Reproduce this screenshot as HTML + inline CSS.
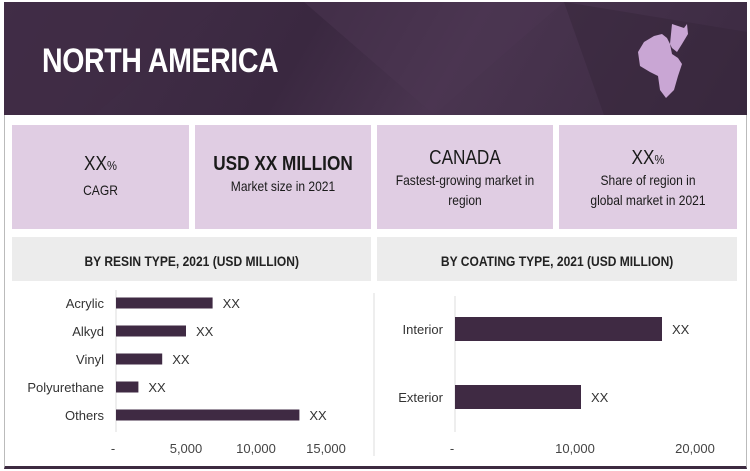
<!DOCTYPE html>
<html><head><meta charset="utf-8"><style>
*{margin:0;padding:0;box-sizing:border-box}
body{width:750px;height:471px;background:#fff;font-family:"Liberation Sans Narrow","Liberation Sans",sans-serif;position:relative;overflow:hidden}
.frame{position:absolute;left:4px;top:2px;width:743px;height:467px;border:1px solid #bbb;border-bottom:3px solid #3d2a40}
.header{position:absolute;left:4px;top:2px;width:743px;height:113px;background:linear-gradient(120deg,#44304a 0%,#3a2840 40%,#4a3550 60%,#3b2a41 100%);overflow:hidden}
.title{position:absolute;left:38px;top:40px;color:#fff;font-weight:bold;font-size:34px;letter-spacing:-0.5px;transform:scaleX(0.84);transform-origin:left center}
.box{position:absolute;top:125px;height:104px;background:#e0cde3;text-align:center;color:#1a1a1a}
.box div{transform:scaleX(0.86)}
.big{font-size:20px;margin-top:28px}
.small{font-size:14px;margin-top:4px;line-height:20px}
.sec{position:absolute;top:237px;height:44px;background:#ececec;text-align:center;font-size:14px;font-weight:bold;line-height:48px;color:#222}
.sec span{display:inline-block;transform:scaleX(0.86)}
svg text{font-family:"Liberation Sans Narrow","Liberation Sans",sans-serif}
</style></head><body>
<div class="frame"></div>
<div class="header">
<svg width="743" height="113" style="position:absolute;left:0;top:0">
<polygon points="0,0 220,0 90,113 0,113" fill="#3f2c45" opacity="0.6"/>
<polygon points="300,0 560,0 430,113" fill="#4b3652" opacity="0.5"/>
<polygon points="560,0 743,30 743,113 600,113" fill="#352539" opacity="0.5"/>
</svg>
<div class="title">NORTH AMERICA</div>
<svg width="60" height="80" style="position:absolute;left:628px;top:18px">
<path d="M40,4 L52,8 L55,4 L56,14 L50,24 L45,32 L40,28 L35,18 L30,14 L22,16 L12,22 L6,32 L8,46 L18,52 L26,56 L28,70 L34,78 L42,70 L46,56 L50,44 L46,38 L40,34 L38,24 Z" fill="#c9a6d4"/>
</svg>
</div>
<div class="box" style="left:12px;width:177px"><div class="big">XX<span style="font-size:13px">%</span></div><div class="small">CAGR</div></div>
<div class="box" style="left:195px;width:176px"><div class="big" style="font-weight:bold">USD XX MILLION</div><div class="small" style="margin-top:0">Market size in 2021</div></div>
<div class="box" style="left:377px;width:176px"><div class="big" style="margin-top:22px">CANADA</div><div class="small" style="margin-top:0">Fastest-growing market in<br>region</div></div>
<div class="box" style="left:559px;width:178px"><div class="big" style="margin-top:22px">XX<span style="font-size:13px">%</span></div><div class="small" style="margin-top:0">Share of region in<br>global market in 2021</div></div>
<div class="sec" style="left:12px;width:359px"><span>BY RESIN TYPE, 2021 (USD MILLION)</span></div>
<div class="sec" style="left:377px;width:360px"><span>BY COATING TYPE, 2021 (USD MILLION)</span></div>
<svg id="chart" width="750" height="471" style="position:absolute;left:0;top:0">
<line x1="374" y1="293" x2="374" y2="456" stroke="#ddd"/>
<line x1="116" y1="290" x2="116" y2="432" stroke="#ddd"/>
<line x1="455" y1="296" x2="455" y2="432" stroke="#ddd"/>
</svg>
<script>
const resinCats=["Acrylic","Alkyd","Vinyl","Polyurethane","Others"];
const resinVals=[6900,5000,3300,1600,13100];
const resinTicks=[0,5000,10000,15000];
const resinTickLabels=["-","5,000","10,000","15,000"];
const coatCats=["Interior","Exterior"];
const coatVals=[17250,10500];
const coatTicks=[0,10000,20000];
const coatTickLabels=["-","10,000","20,000"];
const svg=document.getElementById('chart');
const NS='http://www.w3.org/2000/svg';
function mk(t,a){const e=document.createElementNS(NS,t);for(const k in a)e.setAttribute(k,a[k]);svg.appendChild(e);return e;}
function draw(cats,vals,ticks,labels,x0,scale,y0,step,bh,prefix){
 const xs=v=>x0+v*scale;
 cats.forEach((c,i)=>{
  const cy=y0+i*step;
  const r=mk('rect',{x:xs(0),y:cy-bh/2,width:xs(vals[i])-xs(0),height:bh,fill:'#3f2a43'});
  
  
  const l=mk('text',{x:xs(0)-12,y:cy+5,'text-anchor':'end','font-size':13,fill:'#333'});l.textContent=c;
  
  
  const v=mk('text',{x:xs(vals[i])+10,y:cy+5,'font-size':13,fill:'#333'});v.textContent='XX';
  
  
 });
 ticks.forEach((t,i)=>{
  const tx=mk('text',{x:xs(t)-(i==0?3:0),y:453,'text-anchor':'middle','font-size':13,fill:'#444'});tx.textContent=labels[i];
  
  
 });
}
draw(resinCats,resinVals,resinTicks,resinTickLabels,116,14/1000,303,28,11,'resin');
draw(coatCats,coatVals,coatTicks,coatTickLabels,455,12/1000,329,68,24,'coating');
</script>
</body></html>
